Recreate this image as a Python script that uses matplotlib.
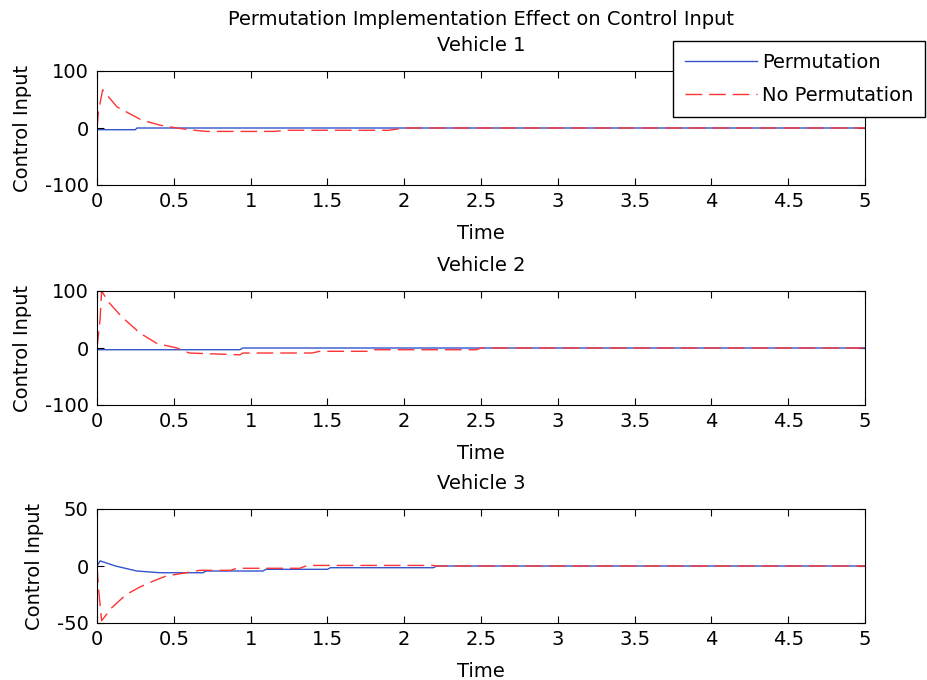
import matplotlib
matplotlib.use("Agg")
import matplotlib.pyplot as plt

plt.rcParams['font.family'] = ['DejaVu Sans']
plt.rcParams['axes.unicode_minus'] = False

# Vehicle 1
t_p1 = [0, 0.25, 0.26, 5]
u_p1 = [-3, -3, 0, 0]
t_n1 = [0, 0.01, 0.037, 0.13, 0.29, 0.41, 0.52, 0.6, 0.71, 1.15, 1.25, 1.9, 2.0, 5]
u_n1 = [0, 30, 67, 37, 14, 5, 0, -3, -6, -6, -4, -4, 0, 0]

# Vehicle 2
t_p2 = [0, 0.93, 0.95, 5]
u_p2 = [-3, -3, 0, 0]
t_n2 = [0, 0.02, 0.03, 0.074, 0.16, 0.28, 0.39, 0.52, 0.6, 0.93, 0.95, 1.4, 1.45, 1.78, 1.8, 2.47, 2.5, 5]
u_n2 = [0, 50, 100, 81, 55, 26, 8, 0, -8.8, -12, -8.8, -8.8, -5.8, -5.8, -3, -3, 0, 0]

# Vehicle 3
t_p3 = [0, 0.02, 0.12, 0.26, 0.41, 0.69, 0.71, 1.08, 1.1, 1.5, 1.52, 2.19, 2.21, 5]
u_p3 = [0, 4.5, 0, -4.4, -5.9, -5.9, -4.4, -4.4, -2.9, -2.9, -1.5, -1.5, 0, 0]
t_n3 = [0, 0.01, 0.03, 0.096, 0.19, 0.28, 0.37, 0.45, 0.58, 0.67, 0.87, 0.91, 1.32, 1.37, 2.19, 2.21, 5]
u_n3 = [0, -20, -48, -36.6, -25, -18.4, -13, -8.8, -5.9, -3.8, -3.8, -2, -2, 0.5, 0.5, 0, 0]

xticks = [0, 0.5, 1, 1.5, 2, 2.5, 3, 3.5, 4, 4.5, 5]
xticklabels = ['0', '0.5', '1', '1.5', '2', '2.5', '3', '3.5', '4', '4.5', '5']

panels = [
    ("Permutation Implementation Effect on Control Input\nVehicle 1", t_p1, u_p1, t_n1, u_n1, (-100, 100), [-100, 0, 100]),
    ("Vehicle 2", t_p2, u_p2, t_n2, u_n2, (-100, 100), [-100, 0, 100]),
    ("Vehicle 3", t_p3, u_p3, t_n3, u_n3, (-50, 50), [-50, 0, 50]),
]

W, H = 928, 680
fig = plt.figure(figsize=(W / 100, H / 100), dpi=100)
fs = 14
blue = '#3355cc'
red = '#ff3333'
rects = [(71, 185), (291, 405), (509, 623)]
lines = []
for (title, tp, up, tn, un, ylim, yticks), (top, bot) in zip(panels, rects):
    ax = fig.add_axes([97 / W, 1 - bot / H, (865 - 97) / W, (bot - top) / H])
    lp, = ax.plot(tp, up, color=blue, lw=1.0, label='Permutation')
    ln, = ax.plot(tn, un, color=red, lw=1.0, linestyle=(0, (12, 5)), label='No Permutation')
    lines = [lp, ln]
    ax.set_xlim(0, 5)
    ax.set_ylim(*ylim)
    ax.set_xticks(xticks)
    ax.set_xticklabels(xticklabels)
    ax.set_yticks(yticks)
    ax.tick_params(direction='in', length=5, width=0.8, top=True, right=True,
                   labelsize=fs)
    ax.tick_params(axis='x', pad=5)
    ax.tick_params(axis='y', pad=6)
    ax.set_xlabel('Time', fontsize=fs, labelpad=9.5)
    ax.set_ylabel('Control Input', fontsize=fs, labelpad=9)
    ax.set_title(title, fontsize=fs, pad=14.5, linespacing=1.46)
    for s in ax.spines.values():
        s.set_linewidth(0.8)

leg = fig.legend(lines, ['Permutation', 'No Permutation'],
                 loc='upper left', bbox_to_anchor=(673 / W, 1 - 41 / H),
                 fontsize=fs, frameon=True, fancybox=False, framealpha=1,
                 edgecolor='black', handlelength=3.7, borderpad=0.6,
                 labelspacing=0.75, handletextpad=0.3, borderaxespad=0)
leg.get_frame().set_linewidth(1.0)

fig.savefig('out.png', dpi=100)
